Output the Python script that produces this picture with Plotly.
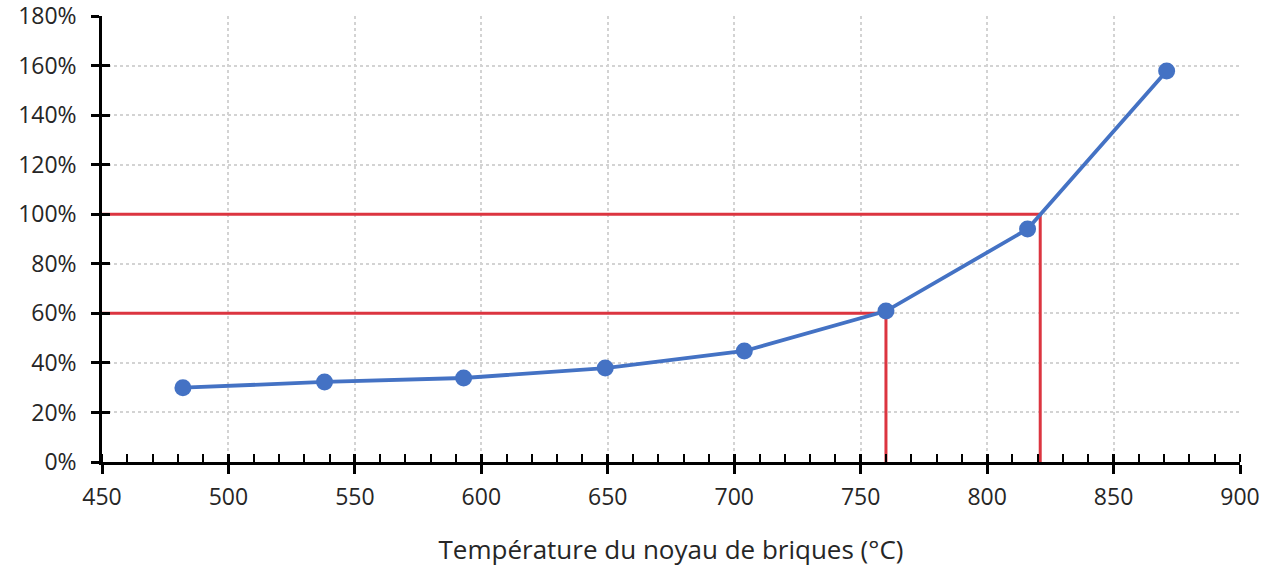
import plotly.graph_objects as go

temperature_c = [482, 538, 593, 649, 704, 760, 816, 871]
ratio = [0.30, 0.323, 0.339, 0.379, 0.448, 0.609, 0.94, 1.578]

threshold_levels = [1.00, 0.60]
threshold_temps = [821, 760]

y_ticks = [0, 0.2, 0.4, 0.6, 0.8, 1.0, 1.2, 1.4, 1.6, 1.8]
y_ticklabels = ["0%", "20%", "40%", "60%", "80%", "100%", "120%", "140%", "160%", "180%"]

x_title = "Température du noyau de briques (°C)"

BLUE = "#4472c4"
RED = "#dc3540"
FONT = "Open Sans, Liberation Sans, sans-serif"

fig = go.Figure()

for lvl, t in zip(threshold_levels, threshold_temps):
    fig.add_trace(go.Scatter(x=[450, t, t], y=[lvl, lvl, 0], mode="lines",
                             line=dict(color=RED, width=3), hoverinfo="skip", showlegend=False))

fig.add_trace(go.Scatter(x=temperature_c, y=ratio, mode="lines+markers",
                         line=dict(color=BLUE, width=3.8),
                         marker=dict(color=BLUE, size=17), showlegend=False))

fig.update_layout(
    width=1263, height=567,
    margin=dict(l=102, r=23, t=16, b=105, autoexpand=False),
    paper_bgcolor="white", plot_bgcolor="white",
    font=dict(family=FONT, size=23, color="#262626"),
    xaxis=dict(range=[450, 900], dtick=50, tick0=450,
               showgrid=True, gridcolor="#d3d3d3", gridwidth=1.5, griddash="dot",
               showline=True, linecolor="black", linewidth=2.5,
               ticks="outside", ticklen=9, tickwidth=2.5, tickcolor="black",
               minor=dict(dtick=10, tick0=450, ticks="inside", ticklen=8, tickwidth=2, tickcolor="black", showgrid=False),
               zeroline=False, tickfont=dict(size=23), ticklabelstandoff=4,
               title=dict(text=x_title, standoff=30, font=dict(size=26))),
    xaxis2=dict(range=[450, 900], dtick=50, tick0=450, overlaying="x", matches="x",
                ticks="inside", ticklen=8, tickwidth=2.5, tickcolor="black",
                showticklabels=False, showgrid=False, showline=False, zeroline=False, side="bottom"),
    yaxis=dict(range=[0, 1.8], tickmode="array", tickvals=y_ticks, ticktext=y_ticklabels,
               showgrid=True, gridcolor="#d3d3d3", gridwidth=1.5, griddash="dot",
               showline=True, linecolor="black", linewidth=2.5,
               ticks="outside", ticklen=8, tickwidth=2.5, tickcolor="black",
               zeroline=False, tickfont=dict(size=23), ticklabelstandoff=10,
               ticklabeloverflow="allow"),
    yaxis2=dict(range=[0, 1.8], tickmode="array", tickvals=y_ticks, overlaying="y", matches="y",
                ticks="inside", ticklen=8, tickwidth=2.5, tickcolor="black",
                showticklabels=False, showgrid=False, showline=False, zeroline=False, side="left"),
)

# invisible trace to activate overlay axes
fig.add_trace(go.Scatter(x=[450], y=[0], xaxis="x2", yaxis="y2", mode="markers",
                         marker=dict(opacity=0), hoverinfo="skip", showlegend=False))

fig.write_html("out.html", config={"displayModeBar": False},
               post_script="document.body.style.margin='0';document.body.style.overflow='hidden';")
